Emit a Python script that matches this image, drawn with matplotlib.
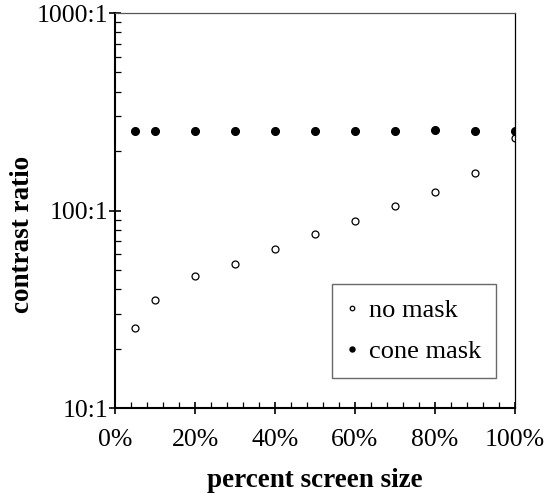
import matplotlib
matplotlib.use("Agg")
import matplotlib.pyplot as plt
from matplotlib.ticker import FixedLocator, FuncFormatter, LogLocator, NullFormatter, MultipleLocator

plt.rcParams['font.family'] = ['Liberation Serif', 'DejaVu Serif']

screen_pct = [5, 10, 20, 30, 40, 50, 60, 70, 80, 90, 100]
no_mask = [25.3, 35.3, 46.8, 53.8, 63.8, 75.7, 88.5, 105.7, 124, 154, 234]
cone_mask = [252, 252, 252, 252, 252, 252, 252, 252, 256, 252, 252]

x_ticks = [0, 20, 40, 60, 80, 100]
y_ticks = [10, 100, 1000]
y_tick_labels = ["10:1", "100:1", "1000:1"]

fig = plt.figure(figsize=(5.6, 4.93), dpi=100)
ax = fig.add_axes([0.2054, 0.1724, 0.7142, 0.8012])

ax.plot(screen_pct, no_mask, linestyle='none', marker='o', markersize=5,
        markerfacecolor='white', markeredgecolor='black', markeredgewidth=0.9, label='no mask')
ax.plot(screen_pct, cone_mask, linestyle='none', marker='o', markersize=5.5,
        markerfacecolor='black', markeredgecolor='black', label='cone mask')

ax.set_yscale('log')
ax.set_xlim(0, 100)
ax.set_ylim(10, 1000)

ax.xaxis.set_major_locator(FixedLocator(x_ticks))
ax.xaxis.set_major_formatter(FuncFormatter(lambda v, p: f"{int(v)}%"))
ax.xaxis.set_minor_locator(MultipleLocator(4))
ax.yaxis.set_major_locator(FixedLocator(y_ticks))
ax.yaxis.set_major_formatter(FuncFormatter(lambda v, p: y_tick_labels[y_ticks.index(int(round(v)))] if int(round(v)) in y_ticks else ""))
ax.yaxis.set_minor_locator(LogLocator(base=10, subs=range(2, 10)))
ax.yaxis.set_minor_formatter(NullFormatter())

ax.tick_params(axis='both', which='major', direction='inout', length=8, width=1.2,
               labelsize=18.5)
ax.tick_params(axis='x', which='major', pad=11)
ax.tick_params(axis='y', which='major', pad=1)
ax.tick_params(axis='both', which='minor', direction='in', length=4, width=0.9)

for s in ['left', 'bottom']:
    ax.spines[s].set_linewidth(1.5)
for s in ['top', 'right']:
    ax.spines[s].set_linewidth(0.9)
ax.spines['top'].set_color('#555555')

ax.set_xlabel('percent screen size', fontsize=19.5, fontweight='bold', labelpad=12)
ax.set_ylabel('contrast ratio', fontsize=19.5, fontweight='bold')
ax.yaxis.set_label_coords(-0.2, 0.44)

leg = ax.legend(loc='lower right', bbox_to_anchor=(0.9525, 0.077), fontsize=19,
                frameon=True, fancybox=False, edgecolor='#444444', markerscale=0.65,
                handlelength=0.4, handletextpad=0.45, borderpad=0.55, labelspacing=0.65,
                borderaxespad=0)
leg.get_frame().set_linewidth(1.0)

fig.savefig('out.png', dpi=100)
